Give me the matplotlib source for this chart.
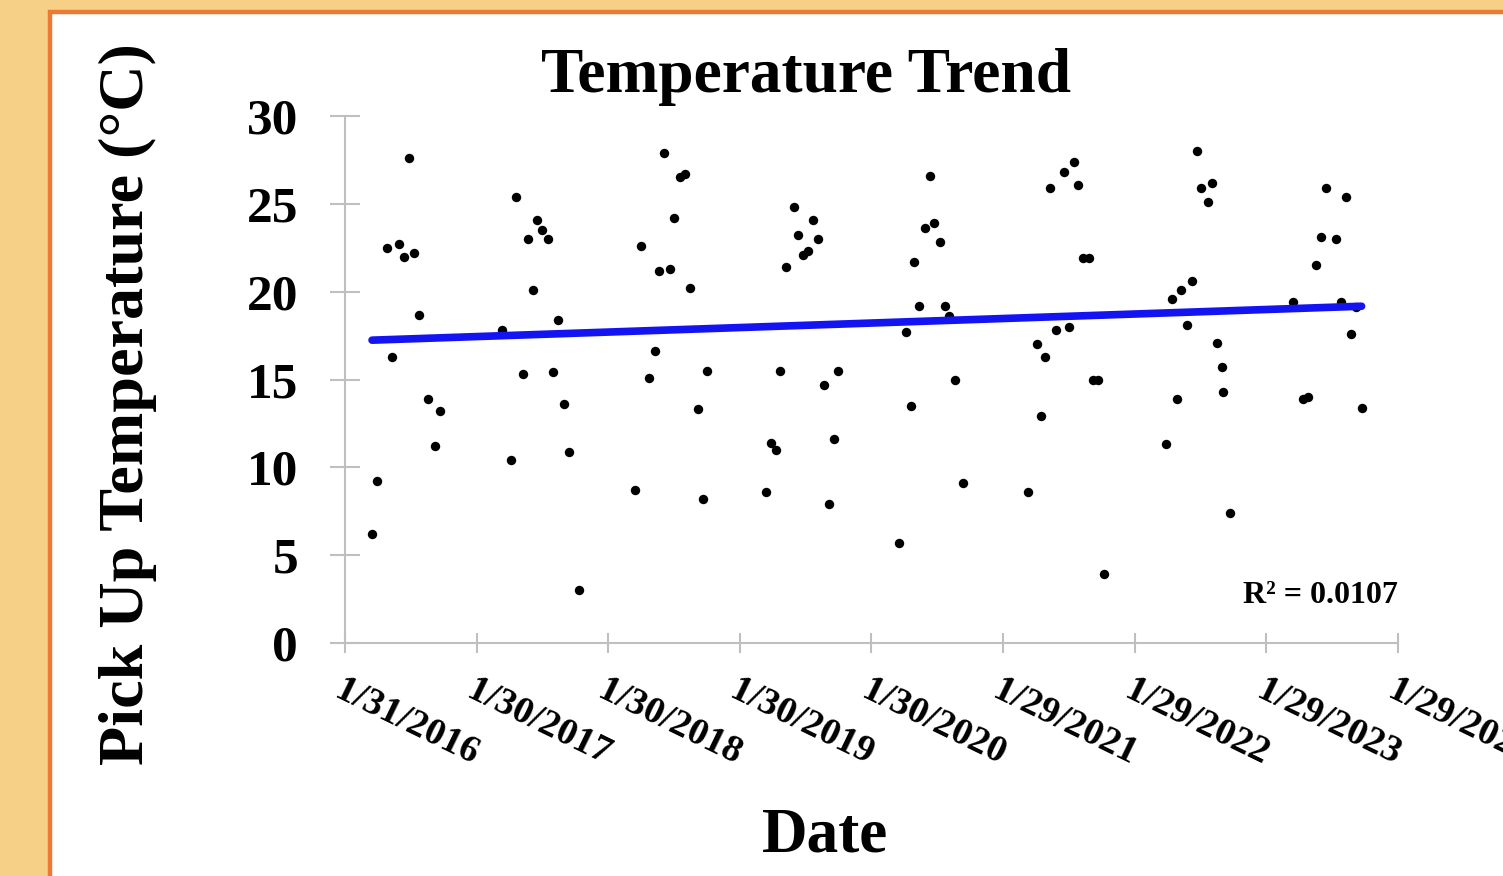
import numpy as np
import pandas as pd
import matplotlib
matplotlib.use("Agg")
import matplotlib.pyplot as plt
import matplotlib.dates as mdates
from matplotlib.patches import Rectangle

# ---------------- data ----------------
dates = [
    "2016-04-15", "2016-04-30", "2016-05-26", "2016-06-10", "2016-06-28", "2016-07-13",
    "2016-07-26", "2016-08-10", "2016-08-24", "2016-09-16", "2016-10-07", "2016-10-20",
    "2017-04-10", "2017-05-04", "2017-05-19", "2017-06-08", "2017-06-21", "2017-07-06",
    "2017-07-17", "2017-07-31", "2017-08-17", "2017-08-30", "2017-09-13", "2017-09-30",
    "2017-10-12", "2017-11-10",
    "2018-04-15", "2018-05-02", "2018-05-22", "2018-06-08", "2018-06-21", "2018-07-03",
    "2018-07-20", "2018-07-31", "2018-08-17", "2018-08-31", "2018-09-15", "2018-10-06",
    "2018-10-20", "2018-11-01",
    "2019-04-12", "2019-04-25", "2019-05-09", "2019-05-22", "2019-06-06", "2019-06-28",
    "2019-07-09", "2019-07-23", "2019-08-07", "2019-08-22", "2019-09-04", "2019-09-20",
    "2019-10-05", "2019-10-19", "2019-10-30",
    "2020-04-16", "2020-05-04", "2020-05-18", "2020-05-28", "2020-06-10", "2020-06-26",
    "2020-07-09", "2020-07-22", "2020-08-06", "2020-08-21", "2020-09-02", "2020-09-17",
    "2020-10-10",
    "2021-04-07", "2021-05-02", "2021-05-13", "2021-05-25", "2021-06-08", "2021-06-25",
    "2021-07-17", "2021-07-31", "2021-08-13", "2021-08-25", "2021-09-07", "2021-09-23",
    "2021-10-06", "2021-10-20", "2021-11-05",
    "2022-04-25", "2022-05-13", "2022-05-26", "2022-06-07", "2022-06-22", "2022-07-08",
    "2022-07-21", "2022-08-01", "2022-08-20", "2022-08-30", "2022-09-15", "2022-09-29",
    "2022-09-30", "2022-10-20",
    "2023-04-13", "2023-05-10", "2023-05-24", "2023-06-16", "2023-06-30", "2023-07-13",
    "2023-08-11", "2023-08-24", "2023-09-06", "2023-09-21", "2023-10-05", "2023-10-20",
]
temps = [
    6.2, 9.2, 22.5, 16.3, 22.7, 22.0, 27.6, 22.2, 18.7, 13.9, 11.2, 13.2,
    17.8, 10.4, 25.4, 15.3, 23.0, 20.1, 24.1, 23.5, 23.0, 15.4, 18.4, 13.6, 10.9, 3.0,
    8.7, 22.6, 15.1, 16.6, 21.2, 27.9, 21.3, 24.2, 26.5, 26.7, 20.2, 13.3, 8.2, 15.5,
    8.6, 11.4, 11.0, 15.5, 21.4, 24.8, 23.2, 22.1, 22.3, 24.1, 23.0, 14.7, 7.9, 11.6, 15.5,
    5.7, 17.7, 13.5, 21.7, 19.2, 23.6, 26.6, 23.9, 22.8, 19.2, 18.6, 15.0, 9.1,
    8.6, 17.0, 12.9, 16.3, 25.9, 17.8, 26.8, 18.0, 27.4, 26.1, 21.9, 21.9, 15.0, 15.0, 3.9,
    11.3, 19.6, 13.9, 20.1, 18.1, 20.6, 28.0, 25.9, 25.1, 26.2, 17.1, 15.7, 14.3, 7.4,
    19.4, 13.9, 14.0, 21.5, 23.1, 25.9, 23.0, 19.4, 25.4, 17.6, 19.1, 13.4,
]
axis_start = "2016-01-31"
axis_step_days = 365
n_steps = 8
y_ticks = [0, 5, 10, 15, 20, 25, 30]
r2_text = "R² = 0.0107"
title = "Temperature Trend"
xlabel = "Date"
ylabel = "Pick Up Temperature (°C)"

# ---------------- figure ----------------
plt.rcParams['font.family'] = ['Liberation Serif', 'DejaVu Serif']
plt.rcParams['font.weight'] = 'bold'

W, H = 1503, 876
fig = plt.figure(figsize=(W / 100, H / 100), dpi=100, facecolor='#F5D086')

# white panel with orange border
panel = Rectangle((50 / W, -0.05), 1.1, 1 - 12 / H + 0.05, transform=fig.transFigure,
                  facecolor='white', edgecolor='#EC7A34', linewidth=3.2, zorder=-10)
fig.patches.append(panel)

ax = fig.add_axes([345 / W, 1 - 643 / H, (1398 - 345) / W, (643 - 116) / H])
ax.patch.set_alpha(0)

x = mdates.date2num(pd.to_datetime(dates))
y = np.array(temps)

ax.scatter(x, y, s=46, color='black', linewidths=0, zorder=3)

# linear trendline
coef = np.polyfit(x, y, 1)
xl = np.array([x.min(), x.max()])
ax.plot(xl, np.polyval(coef, xl), color='#1414F2', linewidth=5.5,
        solid_capstyle='round', zorder=4)

start = pd.Timestamp(axis_start)
tick_dates = [start + pd.Timedelta(days=axis_step_days * i) for i in range(n_steps + 1)]
tick_nums = mdates.date2num(tick_dates)
ax.set_xlim(tick_nums[0], tick_nums[-1])
ax.set_ylim(0, 30)
ax.set_xticks(tick_nums)
ax.set_xticklabels([f"{d.month}/{d.day}/{d.year}" for d in tick_dates])
ax.set_yticks(y_ticks)
ax.set_yticklabels([str(v) for v in y_ticks])

for s in ['top', 'right']:
    ax.spines[s].set_visible(False)
for s in ['left', 'bottom']:
    ax.spines[s].set_color('#BFBFBF')
    ax.spines[s].set_linewidth(1.5)

ax.tick_params(axis='y', direction='inout', length=22.3, width=1.5, color='#BFBFBF',
               pad=22.6, labelsize=37)
ax.tick_params(axis='x', direction='inout', length=14.8, width=1.5, color='#BFBFBF',
               pad=14.0, labelsize=27.5)
for lab in ax.get_xticklabels():
    lab.set_rotation(-26)
    lab.set_ha('left')
    lab.set_va('top')
    lab.set_rotation_mode('anchor')
    lab.set_fontweight('bold')
for lab in ax.get_yticklabels():
    lab.set_fontweight('bold')

ax.text(1.0, (643 - 603) / (643 - 116), r2_text, transform=ax.transAxes,
        ha='right', va='baseline', fontsize=23, fontweight='bold')

fig.text(806 / W, 1 - 91.5 / H, title, ha='center', va='baseline',
         fontsize=45.6, fontweight='bold')
fig.text(825 / W, 1 - 852 / H, xlabel, ha='center', va='baseline',
         fontsize=45.5, fontweight='bold')
fig.text(128 / W, 1 - 404 / H, ylabel, ha='center', va='center', rotation=90,
         fontsize=46.2, fontweight='bold')

fig.savefig("out.png", dpi=100, facecolor=fig.get_facecolor())
